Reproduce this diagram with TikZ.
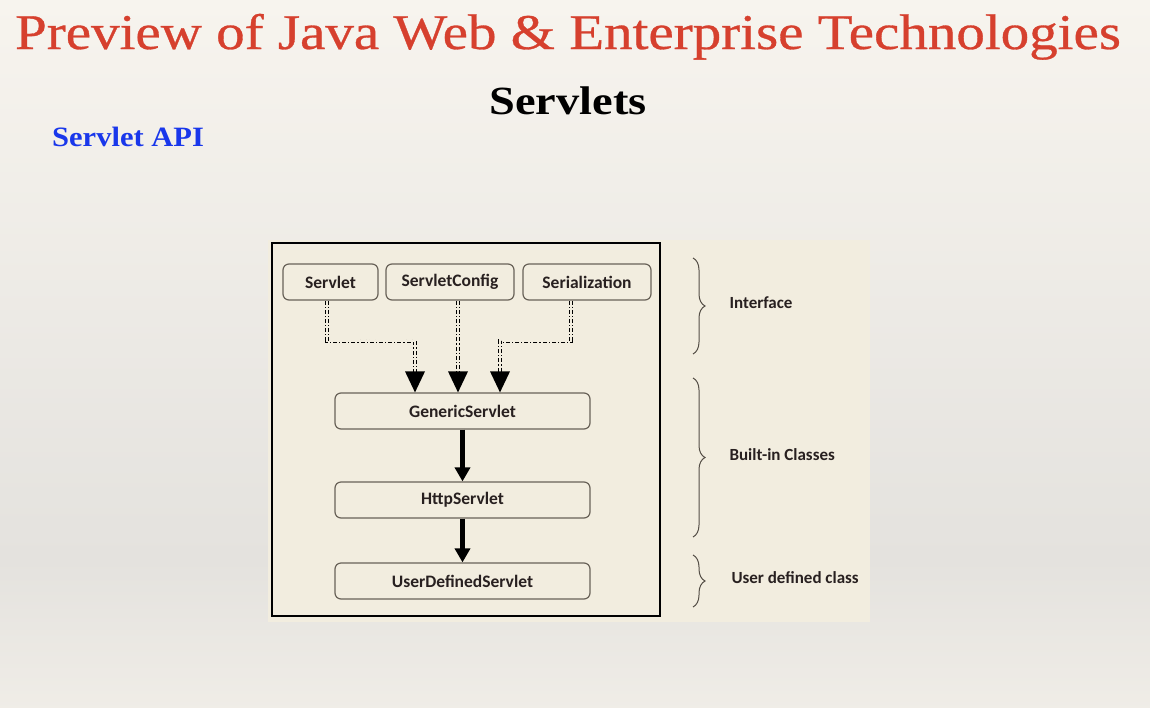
\documentclass[tikz,border=0pt]{standalone}
\usepackage{fontspec}
\setmainfont{Liberation Serif}
\newfontfamily\calib{Carlito}
\newfontfamily\headfont[FakeBold=0.6]{Liberation Serif}
\usepackage{tikz}
\usetikzlibrary{arrows.meta}
\usetikzlibrary{decorations.pathreplacing}

\definecolor{slidetop}{RGB}{247,244,238}
\definecolor{slidemid}{RGB}{228,226,222}
\definecolor{paper}{RGB}{242,237,223}
\definecolor{titlered}{RGB}{214,64,46}
\definecolor{apiblue}{RGB}{25,55,235}
\definecolor{boxline}{RGB}{105,98,88}
\definecolor{inkdark}{RGB}{40,32,32}

\begin{document}
\begin{tikzpicture}[x=1pt,y=-1pt,
    cls/.style={draw=boxline, line width=1.2pt, rounded corners=6pt, minimum height=36pt,
        inner sep=0pt, font=\calib\bfseries\fontsize{17.5}{17.5}\selectfont, text=inkdark},
    iface/.style={double=paper, double distance=2.4pt, line width=0.8pt,
        dash pattern=on 4pt off 2pt on 1.2pt off 2pt, shorten >=19pt},
    tipfill/.style={fill=black},
    inherit/.style={line width=5pt, -{Triangle[width=15pt,length=14pt]}},
    grp/.style={draw=boxline!80!black, line width=1pt,
        decorate, decoration={brace, amplitude=12pt}},
    grplabel/.style={anchor=west, font=\calib\bfseries\fontsize{17}{17}\selectfont, text=inkdark}]

    % Slide background
    \useasboundingbox (0,0) rectangle (1150,707);
    \shade[top color=slidetop, bottom color=slidemid] (0,0) rectangle (1150,560);
    \shade[top color=slidemid, bottom color=slidetop!97!black] (0,560) rectangle (1150,707);

    % Headings
    \node[titlered, font=\headfont\fontsize{50}{50}\selectfont, anchor=base, xscale=1.14] (title) at (568,49)
        {Preview of Java Web \& Enterprise Technologies};
    \node[font=\bfseries\fontsize{40}{40}\selectfont, anchor=base, xscale=1.16] (topic) at (568,114) {Servlets};
    \node[apiblue, font=\bfseries\fontsize{28}{28}\selectfont, anchor=base west, inner sep=0pt, xscale=1.09] (api) at (52,146) {Servlet API};

    % Diagram panel
    \fill[paper] (268,240) rectangle (870,622);
    \draw[line width=1.2pt] (272,243) rectangle (660,616);

    % Interfaces
    \node[cls, minimum width=95pt] (servlet) at (330.5,282) {Servlet};
    \node[cls, minimum width=128pt] (config) at (450,282) {ServletConfig};
    \node[cls, minimum width=128pt] (serial) at (587,282) {Serialization};

    % Classes
    \node[cls, minimum width=255pt] (generic) at (462.5,411) {GenericServlet};
    \node[cls, minimum width=255pt] (http) at (462.5,500) {HttpServlet};
    \node[cls, minimum width=255pt] (user) at (462.5,581) {UserDefinedServlet};

    % Implements
    \draw[iface] ([xshift=-3.5pt]servlet.south) -- ++(0,40) -| ([xshift=-47.5pt]generic.north);
    \draw[iface] ([xshift=8pt]config.south) -- ([xshift=-4.5pt]generic.north);
    \draw[iface] ([xshift=-16pt]serial.south) -- ++(0,40) -| ([xshift=37.5pt]generic.north);
    \foreach \dx in {-47.5,-4.5,37.5}
        \fill[tipfill] ([xshift=\dx pt]generic.north) -- ++(-10,-21) -- ++(20,0) -- cycle;

    % Extends
    \draw[inherit] (generic.south) -- (http.north);
    \draw[inherit] (http.south) -- (user.north);

    % Groups
    \draw[grp] (693,258) -- (693,354);
    \node[grplabel] (lblface) at (726,303) {Interface};
    \draw[grp] (693,378) -- (693,537);
    \node[grplabel] (lblbuilt) at (726,455) {Built-in Classes};
    \draw[grp] (693,555) -- (693,607);
    \node[grplabel] (lbluser) at (728,578) {User defined class};
\end{tikzpicture}
\end{document}
